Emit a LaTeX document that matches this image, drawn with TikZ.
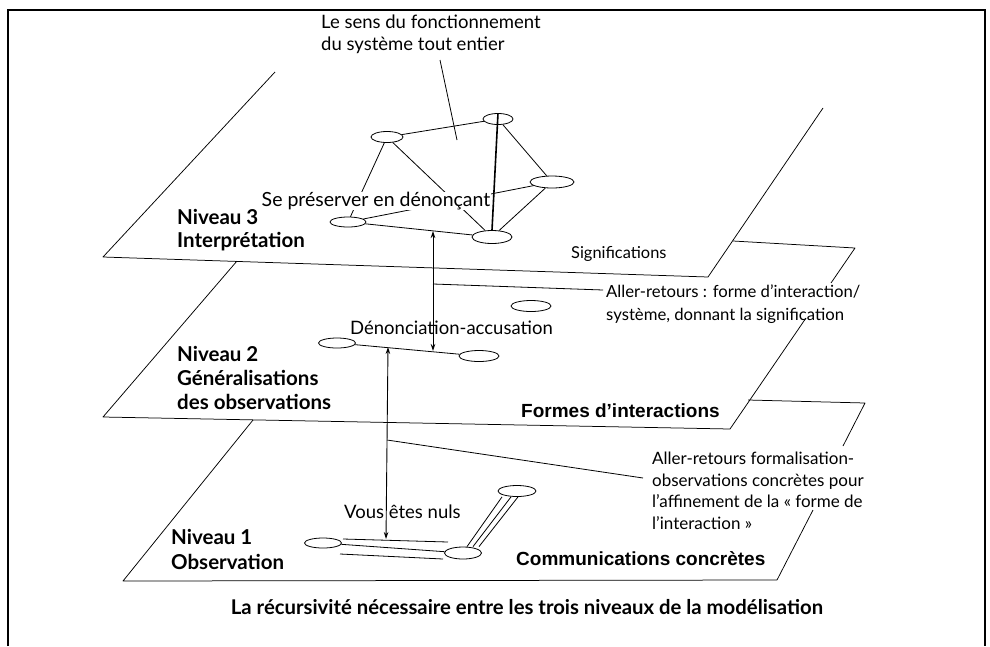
\documentclass[tikz,border=0pt]{standalone}
\usepackage{fontspec}
\setmainfont{Lato}
\newfontfamily\helv{Liberation Sans}
\usetikzlibrary{shapes.geometric,arrows.meta}
\begin{document}
\begin{tikzpicture}[x=1pt,y=-1pt,
  plane/.style={line width=0.75pt, line join=round},
  link/.style={line width=0.8pt},
  thick link/.style={line width=1.6pt},
  ell/.style={draw, ellipse, inner sep=0pt, line width=0.8pt, minimum width=#1, minimum height=11pt},
  ell/.default=36pt,
  txt/.style={inner sep=1pt, align=left},
  wtxt/.style={txt, fill=white, inner sep=0.5pt},
  niv/.style={txt, font=\bfseries\fontsize{20.5}{24}\selectfont, anchor=west},
  helvlbl/.style={txt, font=\helv\bfseries\fontsize{19}{22}\selectfont, anchor=west},
  dbl/.style={{Stealth[length=7pt,width=4.5pt]}-{Stealth[length=7pt,width=4.5pt]}, line width=0.9pt}
]
\useasboundingbox (0,0) rectangle (990,646);
% frame
\draw[line width=2pt] (8,646) -- (8,10) -- (985,10) -- (985,646);

% ---------- planes ----------
% plane 3
\draw[plane] (275,72) -- (103,257) -- (708,277) -- (823,108);
% plane 2
\draw[plane] (237,261) -- (103,417) -- (730,429) -- (806,318);
\draw[plane] (831,283) -- (855,248) -- (733,241);
% plane 1
\draw[plane] (253,420) -- (123,581) -- (777,580) -- (813,510);
\draw[plane] (843,446) -- (865,403) -- (748,400);

% ---------- level 3 network ----------
\node[ell=32pt] (A) at (387,137) {};
\node[ell=30pt] (B) at (498,119) {};
\node[ell=44pt, minimum height=12pt] (C) at (552,182) {};
\node[ell=36pt, minimum height=10pt] (D) at (348,222) {};
\node[ell=40pt, minimum height=13pt] (E) at (492,237) {};
\draw[link] (A) -- (B);
\draw[link] (A) -- (D);
\draw[link] (A) -- (E);
\draw[link] (B) -- (C);
\draw[link] (C) -- (E);
\draw[link] (C) -- (D);
\draw[link] (D) -- (E);
\draw[thick link] (B.north) -- (E.north);
\node[wtxt, font=\fontsize{19.5}{22}\selectfont, anchor=west] (sep) at (261,201) {Se préserver en dénonçant};

% top label
\node[txt, font=\fontsize{18.5}{22}\selectfont, anchor=north west] (sens) at (320,14) {Le sens du fonctionnement\\du système tout entier};
\coordinate (sensOut) at (440,60);
\coordinate (sensIn) at (457,140);
\draw[link] (sensOut) -- (sensIn);

\node[niv] (n3) at (176,217) {Niveau 3};
\node[niv] (i3) at (176,242) {Interprétation};
\node[txt, font=\fontsize{16.4}{18}\selectfont, anchor=west] (sig) at (570,254) {Significations};

% ---------- level 2 ----------
\node[ell=37pt, minimum height=10pt] (I) at (337,343) {};
\node[ell=40pt] (J) at (479,356) {};
\node[ell=40pt] (K) at (531,306) {};
\draw[link] (I) -- (J);
\node[txt, font=\fontsize{18.5}{20}\selectfont, anchor=west] (den) at (349,328) {Dénonciation-accusation};

\node[niv] (n2) at (176,354) {Niveau 2};
\node[niv] (g2) at (176,378) {Généralisations};
\node[niv] (o2) at (176,402) {des observations};
\node[helvlbl] (formes) at (520,411) {Formes d’interactions};

\node[txt, font=\fontsize{16.7}{23}\selectfont, anchor=north west] (ar1) at (605,284) {Aller-retours : forme d’interaction/\\système, donnant la signification};

% arrow between levels 3 and 2
\coordinate (a1t) at (433,231);
\coordinate (a1b) at (433,351);
\draw[dbl] (a1t) -- (a1b);
\coordinate (c1s) at (433,284);
\coordinate (c1e) at (603,290);
\draw[link] (c1s) -- (c1e);

% ---------- level 1 ----------
\node[ell=37pt, minimum height=10pt] (F) at (323,543) {};
\node[ell=37pt, minimum height=12pt] (G) at (463,553) {};
\node[ell=38pt] (H) at (517,491) {};
\draw[link] (F) -- (G);
\coordinate (u1) at (343,539);
\coordinate (u2) at (448,542);
\draw[link] (u1) -- (u2);
\coordinate (l1) at (340,554);
\coordinate (l2) at (443,559);
\draw[link] (l1) -- (l2);
\draw[link] ([xshift=4pt]G.north) -- ([xshift=-15pt]H.south);
\draw[link] ([xshift=10pt]G.north) -- ([xshift=-6pt]H.south);
\draw[link] ([xshift=16pt]G.north) -- ([xshift=1pt]H.south);

\node[txt, font=\fontsize{18.5}{20}\selectfont, anchor=west] (vous) at (343,512) {Vous êtes nuls};
\node[niv] (n1) at (170,537) {Niveau 1};
\node[niv] (ob1) at (170,562) {Observation};
\node[helvlbl] (comm) at (515,559) {Communications concrètes};

\node[txt, font=\fontsize{17}{21.5}\selectfont, anchor=north west] (ar2) at (651,451) {Aller-retours formalisation-\\observations concrètes pour\\l’affinement de la « forme de\\l’interaction »};

% arrow between levels 2 and 1
\coordinate (a2t) at (388,347);
\coordinate (a2b) at (386,539);
\draw[dbl] (a2t) -- (a2b);
\coordinate (c2s) at (387,440);
\coordinate (c2e) at (643,478);
\draw[link] (c2s) -- (c2e);

% caption
\node[txt, font=\bfseries\fontsize{20.3}{22}\selectfont] (cap) at (527,607) {La récursivité nécessaire entre les trois niveaux de la modélisation};
\end{tikzpicture}
\end{document}
